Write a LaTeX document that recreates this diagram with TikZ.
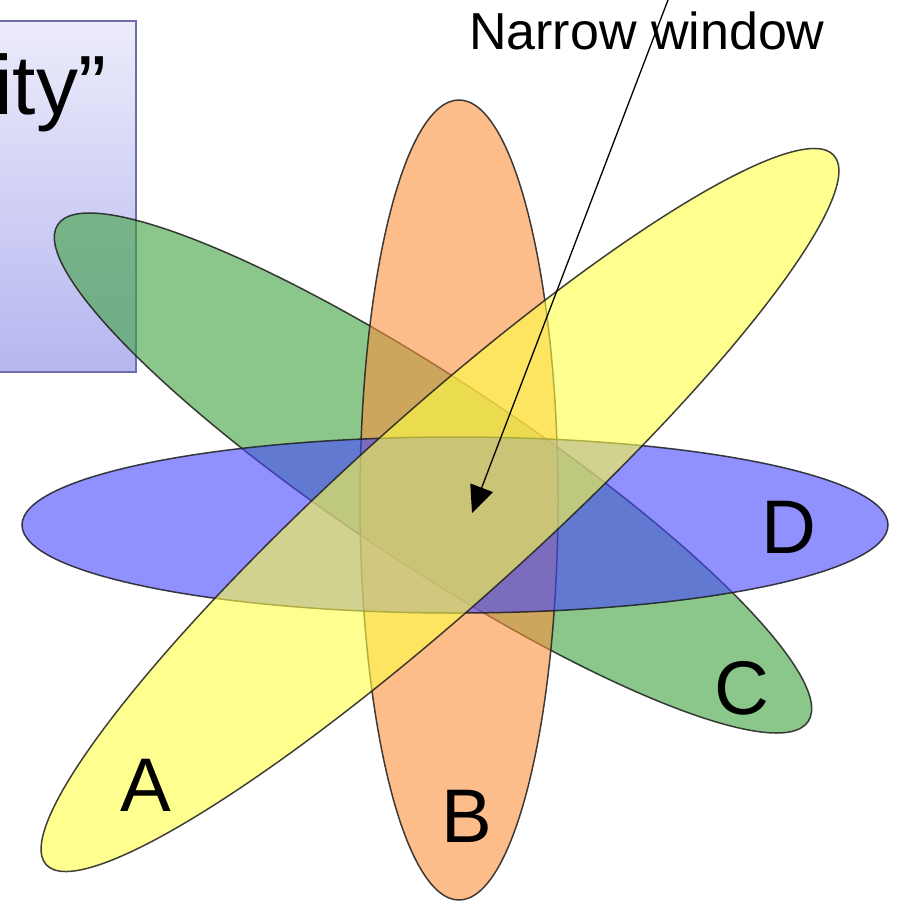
\documentclass[tikz,border=0pt]{standalone}
\usepackage{fontspec}
\setmainfont{Liberation Sans}
\usetikzlibrary{arrows.meta}
\definecolor{yelA}{RGB}{255,255,70}
\definecolor{orgB}{RGB}{250,145,63}
\definecolor{grnC}{RGB}{63,163,63}
\definecolor{bluD}{RGB}{70,70,255}
\definecolor{edgecol}{RGB}{30,30,30}
\definecolor{boxtop}{RGB}{236,236,251}
\definecolor{boxbot}{RGB}{182,182,240}
\definecolor{boxline}{RGB}{110,110,170}
\begin{document}
\begin{tikzpicture}[x=1pt,y=-1pt,
  petal/.style={fill opacity=0.6, draw=edgecol, draw opacity=0.85, line width=1.5pt},
  bigletter/.style={inner sep=0pt, font=\fontsize{76}{76}\selectfont},
  boxst/.style={draw=boxline, line width=1.2pt, top color=boxtop, bottom color=boxbot, inner sep=0pt}]
\useasboundingbox (0,0) rectangle (897,901);
\fill[white] (0,0) rectangle (897,901);
% box on the left
\node[boxst, minimum width=156pt, minimum height=351pt] (box) at (58,196.5) {};
\node[inner sep=0pt, anchor=base west, font=\fontsize{84}{84}\selectfont] (boxtext) at (-6,115) {ity”};
% ellipses
\path[petal, fill=grnC, rotate around={-33.5:(433,473)}] (433,473) ellipse [x radius=450pt, y radius=92pt];
\path[petal, fill=orgB] (459,500) ellipse [x radius=99pt, y radius=400pt];
\path[petal, fill=bluD] (455,525) ellipse [x radius=433pt, y radius=88pt];
\path[petal, fill=yelA, rotate around={42:(440,510)}] (440,510) ellipse [x radius=530pt, y radius=94pt];
% labels
\node[bigletter] (labA) at (146,785) {A};
\node[bigletter] (labB) at (467,816) {B};
\node[bigletter] (labC) at (742,688) {C};
\node[bigletter] (labD) at (789,527) {D};
% narrow window
\node[inner sep=0pt, anchor=base west, font=\fontsize{52}{52}\selectfont] (nw) at (469,50) {Narrow window};
\coordinate (arrstart) at (668,0);
\coordinate (arrtip) at (472,513);
\draw[line width=1.3pt, -{Triangle[length=27pt, width=24pt]}] (arrstart) -- (arrtip);
\end{tikzpicture}
\end{document}
